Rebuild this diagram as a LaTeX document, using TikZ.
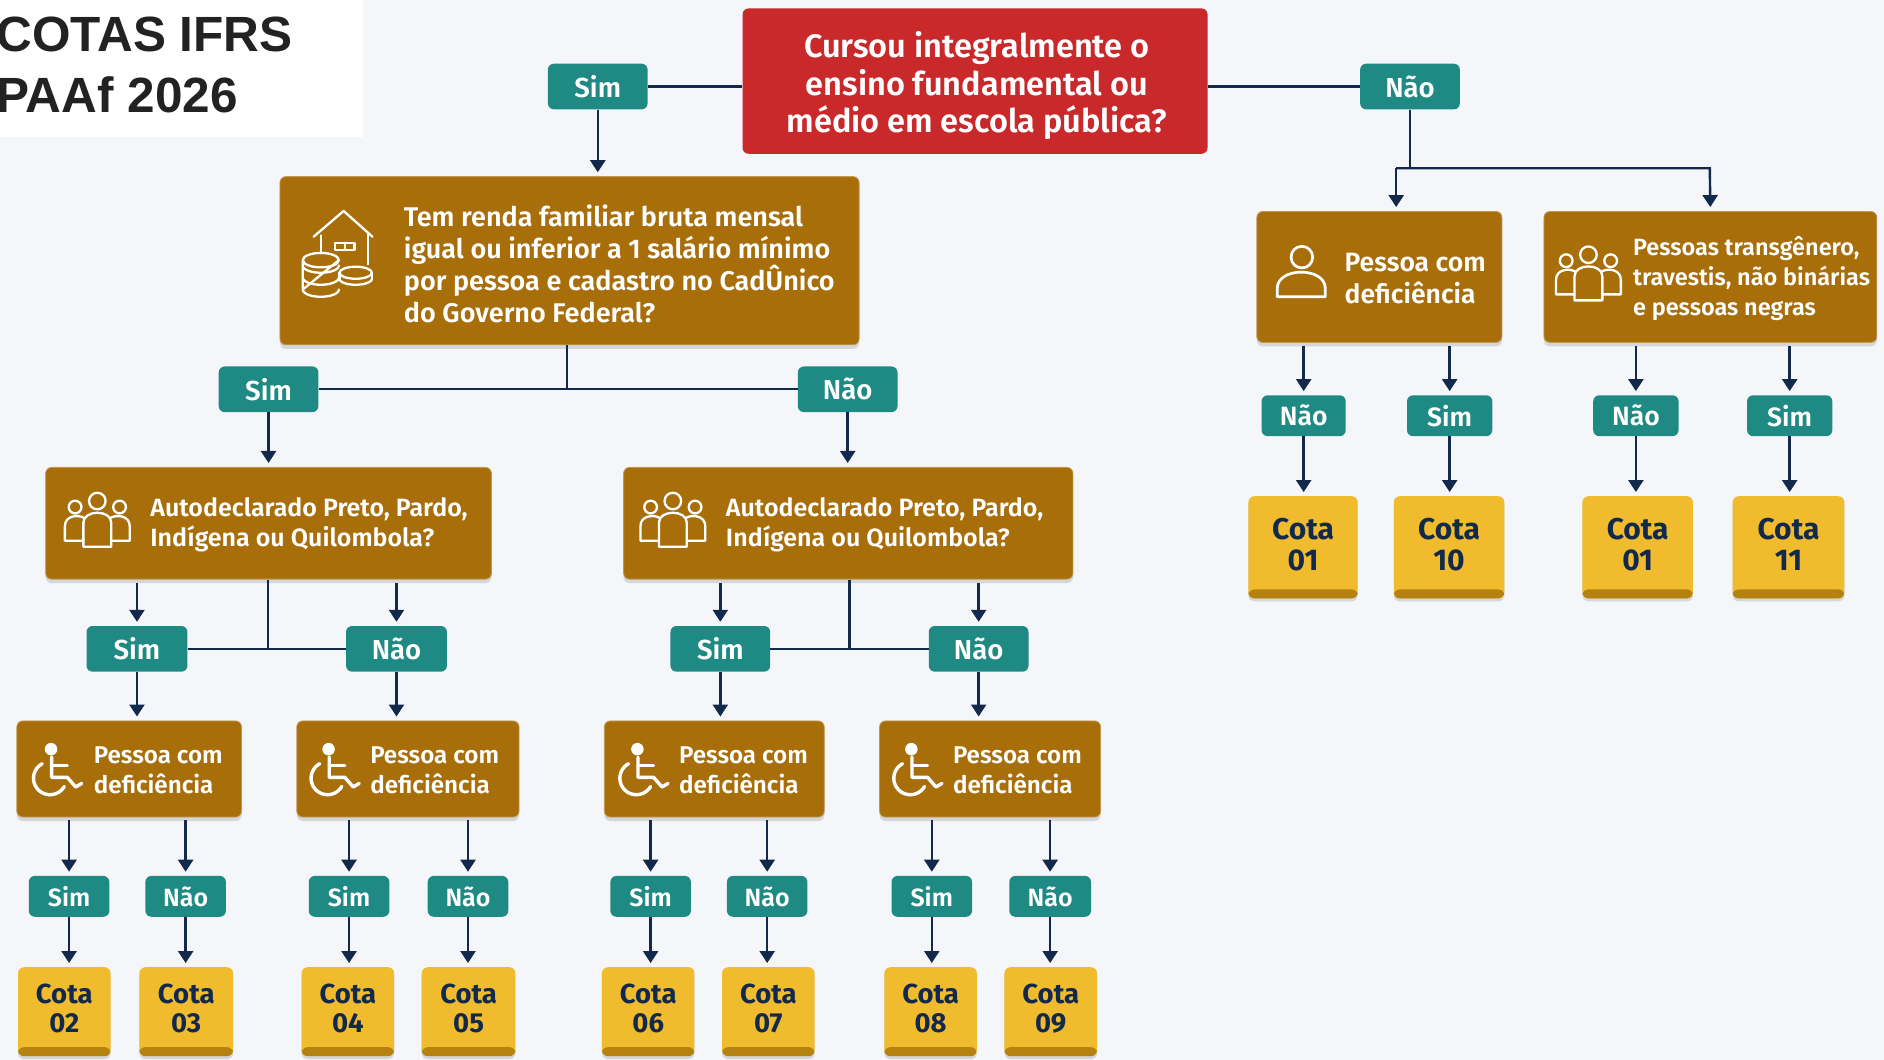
\documentclass[tikz,border=0pt]{standalone}
\usepackage{fontspec}
\setmainfont{Fira Sans}[BoldFont={Fira Sans SemiBold}]
\newfontfamily\titlefont{Liberation Sans}
\newfontfamily\cotafont{Fira Sans}[BoldFont={Fira Sans Bold}]
\usetikzlibrary{arrows.meta,shadows,calc}
\definecolor{bgc}{HTML}{F5F6FA}
\definecolor{redc}{HTML}{C9292B}
\definecolor{brownc}{HTML}{A86E0A}
\definecolor{tealc}{HTML}{1E8A83}
\definecolor{yelc}{HTML}{F0BC2E}
\definecolor{yeld}{HTML}{B5820F}
\definecolor{navyc}{HTML}{12294B}
\definecolor{shadc}{HTML}{D5D6DA}
\definecolor{inkc}{HTML}{222222}
\newcommand{\harc}[4]{plot[domain=0:180,samples=25,smooth] ({#1+#3*cos(\x)},{#2+#4*sin(\x)})}
\tikzset{
  x=1.2015pt,y=-1.2015pt,
  base/.style={rounded corners=6pt,inner sep=0pt,align=center},
  redbox/.style={base,fill=redc},
  redtext/.style={inner sep=0pt,align=center,text=white,font=\bfseries\fontsize{32.5}{37.5}\selectfont},
  brownbox/.style={base,fill=brownc,draw=brownc!70!white,line width=.8pt,drop shadow={shadow xshift=0pt,shadow yshift=-4pt,fill=shadc,opacity=1}},
  chip/.style={base,fill=tealc,text=white,font=\bfseries\fontsize{27.5}{30}\selectfont},
  smallchip/.style={chip,font=\bfseries\fontsize{25}{28}\selectfont},
  rightchip/.style={chip,font=\bfseries\fontsize{26.5}{28}\selectfont},
  cota/.style={base,fill=yelc,text=navyc,font=\cotafont\bfseries\fontsize{27.5}{29}\selectfont,drop shadow={shadow xshift=0pt,shadow yshift=-3pt,fill=shadc,opacity=1},execute at end node={\rule[-6pt]{0pt}{6pt}},
    path picture={\fill[yeld] ([yshift=9pt]path picture bounding box.south west) rectangle (path picture bounding box.south east);}},
  cotabig/.style={cota,font=\cotafont\bfseries\fontsize{30}{31.5}\selectfont},
  btext/.style={anchor=west,inner sep=0pt,align=left,text=white,font=\bfseries\fontsize{27}{32}\selectfont},
  btextm/.style={btext,font=\bfseries\fontsize{25}{30}\selectfont},
  btexts/.style={btext,font=\bfseries\fontsize{24.2}{30.5}\selectfont},
  btextr/.style={btext,font=\bfseries\fontsize{26.5}{32.5}\selectfont},
  btextt/.style={btext,font=\bfseries\fontsize{23.5}{30}\selectfont},
  wire/.style={draw=navyc,line width=2.4pt},
  arr/.style={wire,-{Triangle[width=15pt,length=12pt]},shorten >=4pt},
  icon/.style={draw=white,line width=2.3pt,line cap=round,line join=round},
  pics/people/.style={code={
    \draw[icon] (0,-16) circle (6.9);
    \draw[icon] (-18.5,-11) circle (5.3);
    \draw[icon] (18.5,-11) circle (5.3);
    \draw[icon] (-11.6,22) -- (-11.6,2) .. controls (-11.6,-9) and (11.6,-9) .. (11.6,2) -- (11.6,22) -- cycle;
    \draw[icon] (-11.6,17) -- (-27,17) -- (-27,5) .. controls (-27,-4) and (-16,-5) .. (-11,-2);
    \draw[icon] (11.6,17) -- (27,17) -- (27,5) .. controls (27,-4) and (16,-5) .. (11,-2);
  }},
  pics/wheel/.style={code={
    \fill[white] (-4.5,-17.5) circle (5.2);
    \draw[icon,line width=3.4pt] (-4,-11) -- (-4,6) -- (9,6) -- (16,14) -- (21,11);
    \draw[icon,line width=3.2pt] (-4,-4) -- (9,-4);
    \draw[icon,line width=3.4pt] plot[domain=242:30,samples=30,smooth] ({-5.4+13.7*cos(\x)},{6.7+13.7*sin(\x)});
  }},
  pics/person/.style={code={
    \draw[icon,line width=2.7pt] (0.5,-14) circle (9);
    \draw[icon,line width=2.7pt] (-20,19) -- (-20,12) .. controls (-20,-6) and (20,-6) .. (20,12) -- (20,19) -- cycle;
  }},
  pics/house/.style={code={
    \draw[icon] (-20,-17) -- (5,-38.4) -- (29,-17);
    \draw[icon] (-14,-18) -- (-14,-3);
    \draw[icon] (25,-19) -- (25,6);
    \draw[icon] (-2,-12) rectangle (14,-6);
    \draw[icon] (6,-12) -- (6,-6);
    \draw[icon] (-14,2.5) ellipse (15 and 6);
    \draw[icon] (-29,2.5) -- (-29,27) \harc{-14}{27}{15}{6} -- (1,2.5);
    \draw[icon] \harc{-14}{7}{15}{6};
    \draw[icon] \harc{-14}{17}{15}{6};
    \draw[icon] (15,13) ellipse (13.5 and 5);
    \draw[icon] \harc{15}{18}{13.5}{5};
    \draw[icon] (1.5,13) -- (1.5,18);
    \draw[icon] (28.5,13) -- (28.5,18);
  }},
}
\newcommand{\bx}[7]{% name x1 y1 x2 y2 style text
  \pgfmathsetlengthmacro{\bw}{(#4-#2)*1.2015pt}%
  \pgfmathsetlengthmacro{\bh}{(#5-#3)*1.2015pt}%
  \node[#6,minimum width=\bw,minimum height=\bh] (#1) at ({(#2+#4)/2},{(#3+#5)/2}) {#7};}
\begin{document}
\begin{tikzpicture}
\useasboundingbox[fill=bgc] (0,0) rectangle (1568,882);
% title
\fill[white] (0,0) rectangle (302,114);
\node[anchor=west,inner sep=0pt,align=left,font=\titlefont\bfseries\fontsize{49.5}{61}\selectfont,text=inkc] (title) at (-3,54) {COTAS IFRS\\PAAf 2026};
% top
\bx{red}{618}{7}{1005}{128}{redbox}{}
\node[redtext] (redt) at (813,71.5) {Cursou integralmente o\\ensino fundamental ou\\médio em escola pública?};
\bx{sim0}{456}{53}{539}{91}{chip}{Sim}
\bx{nao0}{1132}{53}{1215}{91}{chip}{Não}
\bx{renda}{233}{147}{715}{287}{brownbox}{}
\pic at (281,214) {house};
\node[btext] (rendat) at (336,220) {Tem renda familiar bruta mensal\\igual ou inferior a 1 salário mínimo\\por pessoa e cadastro no CadÛnico\\do Governo Federal?};
\bx{sim1}{182}{305}{265}{343}{chip}{Sim}
\bx{nao1}{664}{305}{747}{343}{chip}{Não}
% autodeclarado
\bx{autoa}{38}{389}{409}{482}{brownbox}{}
\pic at (81,433) {people};
\node[btextm] (autoat) at (125,437) {Autodeclarado Preto, Pardo,\\Indígena ou Quilombola?};
\bx{autob}{519}{389}{893}{482}{brownbox}{}
\pic at (560,433) {people};
\node[btextm] (autobt) at (604,437) {Autodeclarado Preto, Pardo,\\Indígena ou Quilombola?};
\bx{sa}{72}{521}{156}{559}{chip}{Sim}
\bx{na}{288}{521}{372}{559}{chip}{Não}
\bx{sb}{558}{521}{641}{559}{chip}{Sim}
\bx{nb}{773}{521}{856}{559}{chip}{Não}
% deficiencia
\bx{d1}{14}{600}{201}{680}{brownbox}{}
\pic at (47,641) {wheel};
\node[btexts] (d1t) at (78,641) {Pessoa com\\deficiência};
\bx{d2}{247}{600}{432}{680}{brownbox}{}
\pic at (278,641) {wheel};
\node[btexts] (d2t) at (308,641) {Pessoa com\\deficiência};
\bx{d3}{503}{600}{686}{680}{brownbox}{}
\pic at (535,641) {wheel};
\node[btexts] (d3t) at (565,641) {Pessoa com\\deficiência};
\bx{d4}{732}{600}{916}{680}{brownbox}{}
\pic at (763,641) {wheel};
\node[btexts] (d4t) at (793,641) {Pessoa com\\deficiência};
% chips row
\bx{c1}{24}{729}{91}{763}{smallchip}{Sim}
\bx{c2}{121}{729}{188}{763}{smallchip}{Não}
\bx{c3}{257}{729}{324}{763}{smallchip}{Sim}
\bx{c4}{356}{729}{423}{763}{smallchip}{Não}
\bx{c5}{508}{729}{575}{763}{smallchip}{Sim}
\bx{c6}{605}{729}{672}{763}{smallchip}{Não}
\bx{c7}{742}{729}{809}{763}{smallchip}{Sim}
\bx{c8}{840}{729}{908}{763}{smallchip}{Não}
% cotas row
\bx{q2}{15}{805}{92}{879}{cota}{Cota\\02}
\bx{q3}{116}{805}{194}{879}{cota}{Cota\\03}
\bx{q4}{251}{805}{328}{879}{cota}{Cota\\04}
\bx{q5}{351}{805}{429}{879}{cota}{Cota\\05}
\bx{q6}{501}{805}{578}{879}{cota}{Cota\\06}
\bx{q7}{601}{805}{678}{879}{cota}{Cota\\07}
\bx{q8}{736}{805}{813}{879}{cota}{Cota\\08}
\bx{q9}{836}{805}{913}{879}{cota}{Cota\\09}
% right
\bx{dr}{1046}{176}{1250}{285}{brownbox}{}
\pic at (1083,228) {person};
\node[btextr] (drt) at (1119,232) {Pessoa com\\deficiência};
\bx{tr}{1285}{176}{1562}{285}{brownbox}{}
\pic at (1322,228) {people};
\node[btextt] (trt) at (1359,232) {Pessoas transgênero,\\travestis, não binárias\\e pessoas negras};
\bx{r1}{1050}{329}{1120}{363}{rightchip}{Não}
\bx{r2}{1171}{329}{1242}{363}{rightchip}{Sim}
\bx{r3}{1326}{329}{1397}{363}{rightchip}{Não}
\bx{r4}{1454}{329}{1525}{363}{rightchip}{Sim}
\bx{q1a}{1039}{413}{1130}{498}{cotabig}{Cota\\01}
\bx{q10}{1160}{413}{1252}{498}{cotabig}{Cota\\10}
\bx{q1b}{1317}{413}{1409}{498}{cotabig}{Cota\\01}
\bx{q11}{1442}{413}{1535}{498}{cotabig}{Cota\\11}
% connectors
\draw[wire] (sim0.east) -- (red.west |- sim0.east);
\draw[wire] (red.east |- nao0.west) -- (nao0.west);
\draw[arr] (sim0.south) -- (sim0.south |- renda.north);
\coordinate (jr) at (1173,140);
\draw[wire] (nao0.south) -- (nao0.south |- jr);
\coordinate (jd) at (1162,140);
\coordinate (je) at (1423,140);
\draw[arr] (jd) -- (jd |- dr.north);
\draw[arr] (jd) -- (je) -- (tr.north);
\coordinate (j1) at (472,324);
\draw[wire] (sim1.east) -- (nao1.west);
\draw[wire] (renda.south -| j1) -- (j1);
\draw[arr] (sim1.south) -- (sim1.south |- autoa.north);
\draw[arr] (nao1.south) -- (nao1.south |- autob.north);
\coordinate (ja) at (223,540);
\coordinate (jb) at (707,540);
\draw[wire] (sa.east) -- (na.west);
\draw[wire] (sb.east) -- (nb.west);
\draw[wire] (autoa.south -| ja) -- (ja);
\draw[wire] (autob.south -| jb) -- (jb);
\foreach \kid/\mom in {sa/autoa,na/autoa,sb/autob,nb/autob,c1/d1,c2/d1,c3/d2,c4/d2,c5/d3,c6/d3,c7/d4,c8/d4,r1/dr,r2/dr,r3/tr,r4/tr}{
  \draw[arr,shorten <=3pt] (\kid.north |- \mom.south) -- (\kid.north);
}
\draw[arr] (sa.south) -- (sa.south |- d1.north);
\draw[arr] (na.south) -- (na.south |- d2.north);
\draw[arr] (sb.south) -- (sb.south |- d3.north);
\draw[arr] (nb.south) -- (nb.south |- d4.north);
\foreach \kid/\qq in {c1/q2,c2/q3,c3/q4,c4/q5,c5/q6,c6/q7,c7/q8,c8/q9,r1/q1a,r2/q10,r3/q1b,r4/q11}{
  \draw[arr] (\kid.south) -- (\kid.south |- \qq.north);
}
\end{tikzpicture}
\end{document}
